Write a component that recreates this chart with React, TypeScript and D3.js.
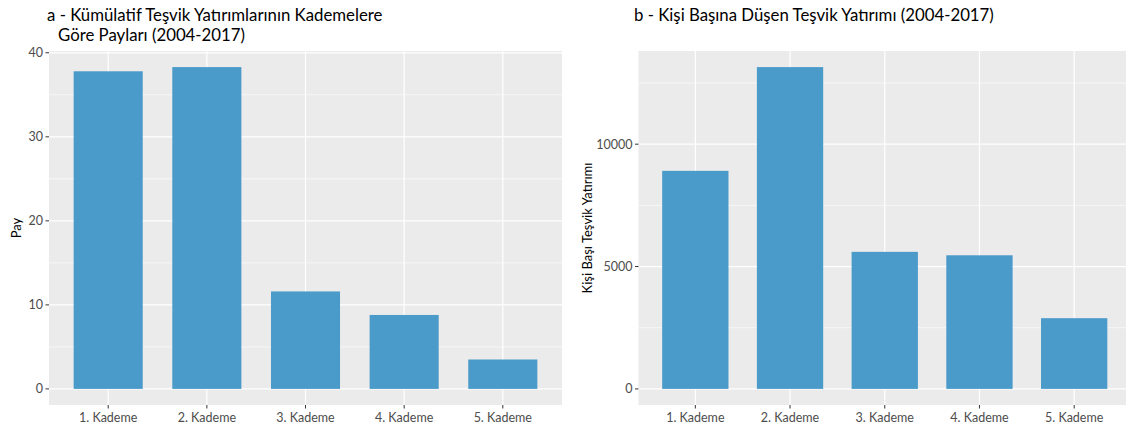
import { useEffect, useRef } from 'react';
import * as d3 from 'd3';

const categories = ['1. Kademe', '2. Kademe', '3. Kademe', '4. Kademe', '5. Kademe'];
const shareValues = [37.8, 38.3, 11.6, 8.8, 3.5];
const perCapitaValues = [8910, 13150, 5600, 5460, 2890];
const shareTicks = [0, 10, 20, 30, 40];
const perCapitaTicks = [0, 5000, 10000];

const W = 1126;
const H = 432;
const FONT = 'Lato, "Open Sans", sans-serif';
const BAR = '#4397c8';

interface PanelSpec {
  left: number;
  right: number;
  top: number;
  bottom: number;
  values: number[];
  ticks: number[];
  yTitle: string;
  yTitleX: number;
  titleLines: { text: string; x: number; y: number }[];
}

function drawPanel(svg: d3.Selection<SVGSVGElement, unknown, null, undefined>, p: PanelSpec) {
  const max = d3.max(p.values)!;
  const pad = max * 0.05;
  const y = d3.scaleLinear().domain([-pad, max + pad]).range([p.bottom, p.top]);
  const x = d3.scaleBand<string>()
    .domain(categories)
    .range([p.left, p.right])
    .paddingInner(0.3)
    .paddingOuter(0.25);

  const g = svg.append('g');

  g.append('rect')
    .attr('x', p.left)
    .attr('y', p.top)
    .attr('width', p.right - p.left)
    .attr('height', p.bottom - p.top)
    .attr('fill', '#ebebeb');

  // minor grid lines halfway between majors
  const step = p.ticks[1] - p.ticks[0];
  const minor = d3.range(p.ticks[0] + step / 2, max + pad, step);
  g.selectAll('.minor')
    .data(minor)
    .join('line')
    .attr('x1', p.left).attr('x2', p.right)
    .attr('y1', d => y(d)).attr('y2', d => y(d))
    .attr('stroke', '#ffffff')
    .attr('stroke-width', 0.6);

  g.selectAll('.major')
    .data(p.ticks)
    .join('line')
    .attr('x1', p.left).attr('x2', p.right)
    .attr('y1', d => y(d)).attr('y2', d => y(d))
    .attr('stroke', '#ffffff')
    .attr('stroke-width', 1.2);

  g.selectAll('.vgrid')
    .data(categories)
    .join('line')
    .attr('x1', d => x(d)! + x.bandwidth() / 2)
    .attr('x2', d => x(d)! + x.bandwidth() / 2)
    .attr('y1', p.top).attr('y2', p.bottom)
    .attr('stroke', '#ffffff')
    .attr('stroke-width', 1.2);

  g.selectAll('.bar')
    .data(p.values)
    .join('rect')
    .attr('x', (_, i) => x(categories[i])!)
    .attr('width', x.bandwidth())
    .attr('y', d => y(d))
    .attr('height', d => y(0) - y(d))
    .attr('fill', BAR)
    .attr('fill-opacity', 0.96);

  // y axis ticks + labels
  g.selectAll('.ytick')
    .data(p.ticks)
    .join('line')
    .attr('x1', p.left - 3.5).attr('x2', p.left)
    .attr('y1', d => y(d)).attr('y2', d => y(d))
    .attr('stroke', '#333333')
    .attr('stroke-width', 1);

  g.selectAll('.ylab')
    .data(p.ticks)
    .join('text')
    .attr('x', p.left - 6)
    .attr('y', d => y(d))
    .attr('dy', '0.35em')
    .attr('text-anchor', 'end')
    .attr('font-family', FONT)
    .attr('font-size', 12.5)
    .attr('fill', '#4d4d4d')
    .text(d => String(d));

  // x axis ticks + labels
  g.selectAll('.xtick')
    .data(categories)
    .join('line')
    .attr('x1', d => x(d)! + x.bandwidth() / 2)
    .attr('x2', d => x(d)! + x.bandwidth() / 2)
    .attr('y1', p.bottom).attr('y2', p.bottom + 3.5)
    .attr('stroke', '#333333')
    .attr('stroke-width', 1);

  g.selectAll('.xlab')
    .data(categories)
    .join('text')
    .attr('x', d => x(d)! + x.bandwidth() / 2)
    .attr('y', p.bottom + 17)
    .attr('text-anchor', 'middle')
    .attr('font-family', FONT)
    .attr('font-size', 12.5)
    .attr('fill', '#4d4d4d')
    .text(d => d);

  g.append('text')
    .attr('transform', `translate(${p.yTitleX},${(p.top + p.bottom) / 2}) rotate(-90)`)
    .attr('text-anchor', 'middle')
    .attr('font-family', FONT)
    .attr('font-size', 13)
    .attr('fill', '#000000')
    .text(p.yTitle);

  p.titleLines.forEach(t => {
    g.append('text')
      .attr('x', t.x)
      .attr('y', t.y)
      .attr('font-family', FONT)
      .attr('font-size', 16.8)
      .attr('fill', '#000000')
      .text(t.text);
  });
}

export default function App() {
  const svgRef = useRef<SVGSVGElement>(null);

  useEffect(() => {
    if (!svgRef.current) return;
    const svg = d3.select(svgRef.current);
    svg.selectAll('*').remove();

    drawPanel(svg, {
      left: 49,
      right: 562,
      top: 51,
      bottom: 405,
      values: shareValues,
      ticks: shareTicks,
      yTitle: 'Pay',
      yTitleX: 21,
      titleLines: [
        { text: 'a - Kümülatif Teşvik Yatırımlarının Kademelere', x: 47, y: 21 },
        { text: 'Göre Payları (2004-2017)', x: 58, y: 41 },
      ],
    });

    drawPanel(svg, {
      left: 638.5,
      right: 1131,
      top: 51,
      bottom: 405,
      values: perCapitaValues,
      ticks: perCapitaTicks,
      yTitle: 'Kişi Başı Teşvik Yatırımı',
      yTitleX: 592,
      titleLines: [
        { text: 'b - Kişi Başına Düşen Teşvik Yatırımı (2004-2017)', x: 634, y: 21 },
      ],
    });
  }, []);

  return (
    <svg
      ref={svgRef}
      width={W}
      height={H}
      style={{ position: 'absolute', left: 0, top: 0, background: '#ffffff' }}
    />
  );
}
